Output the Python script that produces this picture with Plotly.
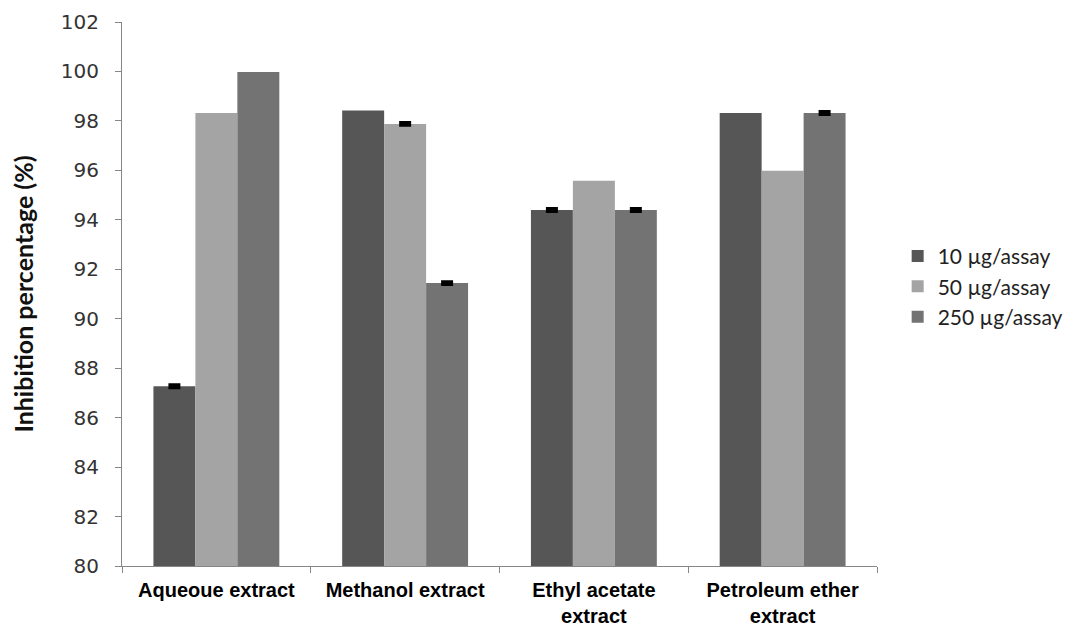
import plotly.graph_objects as go

categories = ["Aqueoue extract", "Methanol extract", "Ethyl acetate<br>extract", "Petroleum ether<br>extract"]
series_names = ["10 µg/assay", "50 µg/assay", "250 µg/assay"]
values_10 = [87.27, 98.42, 94.40, 98.32]
values_50 = [98.32, 97.88, 95.58, 95.98]
values_250 = [99.98, 91.44, 94.40, 98.32]
# error bars only shown on some bars (None = no error bar)
err_10 = [0.06, None, 0.06, None]
err_50 = [None, 0.06, None, None]
err_250 = [None, 0.06, 0.06, 0.06]
colors = ["#565656", "#a4a4a4", "#737373"]

fig = go.Figure()
for i, (name, vals, errs, col) in enumerate(zip(series_names, [values_10, values_50, values_250],
                                                [err_10, err_50, err_250], colors)):
    fig.add_trace(go.Bar(
        x=categories, y=vals, name=name, offsetgroup=str(i),
        marker=dict(color=col, line=dict(width=0)),
    ))
for i, (vals, errs) in enumerate(zip([values_10, values_50, values_250],
                                     [err_10, err_50, err_250])):
    ys = [v if e is not None else None for v, e in zip(vals, errs)]
    es = [e if e is not None else 0 for e in errs]
    fig.add_trace(go.Bar(
        x=categories, y=ys, offsetgroup=str(i), showlegend=False,
        marker=dict(color="rgba(0,0,0,0)", line=dict(width=0)),
        error_y=dict(type="data", array=es, visible=True, color="black",
                     thickness=3, width=6),
        hoverinfo="skip",
    ))

fig.update_layout(
    width=1071, height=621,
    margin=dict(l=114, r=201, t=14, b=63),
    paper_bgcolor="white", plot_bgcolor="white",
    barmode="group", bargap=0.333, bargroupgap=0,
    showlegend=True,
    legend=dict(x=1.026, y=0.514, xanchor="left", yanchor="middle",
                font=dict(family="Lato, Carlito, sans-serif", size=21, color="#222"),
                traceorder="normal"),
    xaxis=dict(
        automargin=False,
        showline=True, linecolor="#868686", linewidth=1,
        ticks="outside", tickson="boundaries", ticklen=6, tickcolor="#868686",
        tickfont=dict(family="Liberation Sans, Arial, sans-serif", size=20, color="black", weight="bold"),
        ticklabelstandoff=6,
        showgrid=False,
    ),
    yaxis=dict(
        automargin=False,
        range=[80, 102], dtick=2, tick0=80,
        showline=True, linecolor="#868686", linewidth=1,
        ticks="outside", ticklen=6, tickcolor="#868686",
        tickfont=dict(family="DejaVu Sans, Verdana, sans-serif", size=20, color="#333"),
        ticklabelstandoff=12,
        showgrid=False, zeroline=False,
        title=dict(text="Inhibition percentage (%)",
                   font=dict(family="Lato, Carlito, sans-serif", size=25, color="#111", weight="bold"),
                   standoff=30),
    ),
)

fig.write_html("out.html")
